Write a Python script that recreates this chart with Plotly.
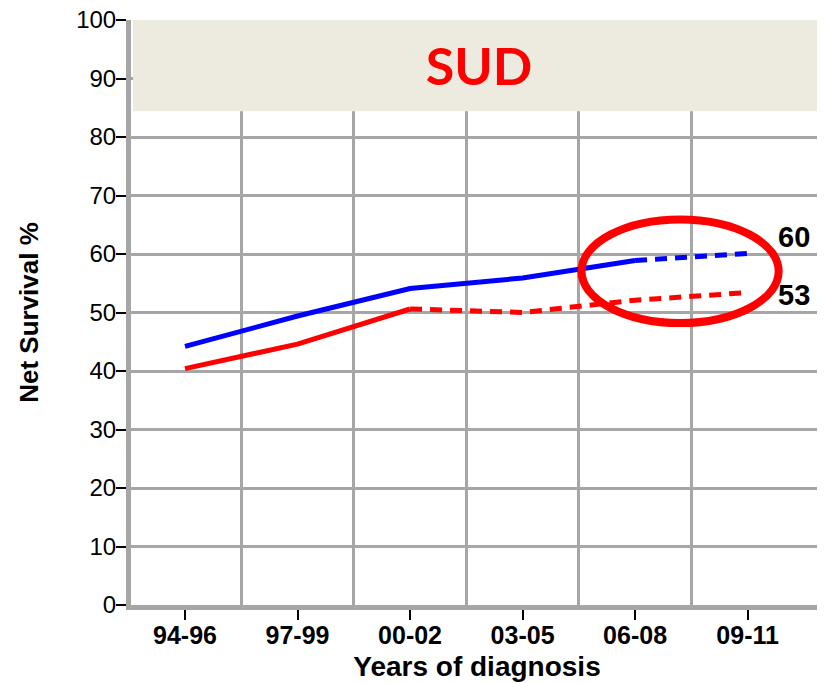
import plotly.graph_objects as go

periods = ["94-96", "97-99", "00-02", "03-05", "06-08", "09-11"]
surv_blue = [44.2, 49.4, 54.1, 55.9, 58.9, 60.1]
surv_red = [40.4, 44.6, 50.6, 50.0, 52.1, 53.4]
# last index drawn solid, the rest is dashed (estimates)
blue_solid_to = 4
red_solid_to = 2
y_ticks = list(range(0, 101, 10))

BLUE = "#0000FF"
RED = "#FF0000"
GRID = "#A6A6A6"
FONT = "Liberation Sans, Arial, sans-serif"

# the page body adds an 8px margin, so the figure is 8px smaller
W, H = 817, 675

idx = list(range(len(periods)))

fig = go.Figure()


def add_series(vals, k, color):
    fig.add_trace(go.Scatter(x=idx[:k + 1], y=vals[:k + 1], mode="lines",
                             line=dict(color=color, width=5), hoverinfo="skip"))
    fig.add_trace(go.Scatter(x=idx[k:], y=vals[k:], mode="lines",
                             line=dict(color=color, width=5, dash="12px,8px"),
                             hoverinfo="skip"))


add_series(surv_red, red_solid_to, RED)
add_series(surv_blue, blue_solid_to, BLUE)

# title banner
fig.add_shape(type="rect", xref="paper", yref="y", x0=0.003, x1=1.003, y0=84.4, y1=100,
              fillcolor="#EDEBE0", line=dict(width=0), layer="above")
# right border
fig.add_shape(type="line", xref="paper", yref="y", x0=1, x1=1, y0=0, y1=84.4,
              line=dict(color="#B0B0B0", width=2), layer="above")
# highlight ellipse
fig.add_shape(type="circle", xref="x", yref="y", x0=3.524, x1=5.276, y0=48.2, y1=65.9,
              line=dict(color=RED, width=8), layer="above")

for vals, ys in ((surv_blue, 16), (surv_red, -2)):
    fig.add_annotation(x=idx[-1], y=vals[-1], text=f"<b>{round(vals[-1])}</b>",
                       showarrow=False, xshift=46, yshift=ys,
                       font=dict(family=FONT, size=29, color="black"))

fig.update_layout(
    width=W, height=H,
    margin=dict(l=123, r=2, t=12, b=78),
    paper_bgcolor="white", plot_bgcolor="white",
    showlegend=False,
    title=dict(text="<b>SUD</b>", x=(479 - 8) / W, y=1 - (67 - 8) / H,
               xanchor="center", yanchor="middle",
               font=dict(family="Lato, sans-serif", size=52, color=RED)),
    font=dict(family=FONT, color="black"),
)

fig.update_xaxes(
    range=[-0.48, 5.67], automargin=False,
    tickmode="array", tickvals=idx, ticktext=[f"<b>{p}</b>" for p in periods],
    tickfont=dict(size=25), ticks="outside", ticklen=10, tickwidth=1.5, tickcolor="black",
    ticklabelstandoff=-6,
    showgrid=False, zeroline=False,
    showline=True, linecolor=GRID, linewidth=5,
    minor=dict(tickmode="array", tickvals=[i + 0.5 for i in idx[:-1]], showgrid=True,
               gridcolor=GRID, gridwidth=3, ticks=""),
    title=dict(text="<b>Years of diagnosis</b>", font=dict(size=28), standoff=10),
)

fig.update_yaxes(
    range=[0, 100], automargin=False, tickmode="array", tickvals=y_ticks,
    tickfont=dict(size=24), ticks="outside", ticklen=10, tickwidth=1.5, tickcolor="black",
    ticklabelstandoff=-5, ticklabeloverflow="allow",
    showgrid=True, gridcolor=GRID, gridwidth=3, zeroline=False,
    showline=True, linecolor=GRID, linewidth=5,
    title=dict(text="<b>Net Survival %</b>", font=dict(size=26), standoff=32),
)

fig.write_html("out.html")
